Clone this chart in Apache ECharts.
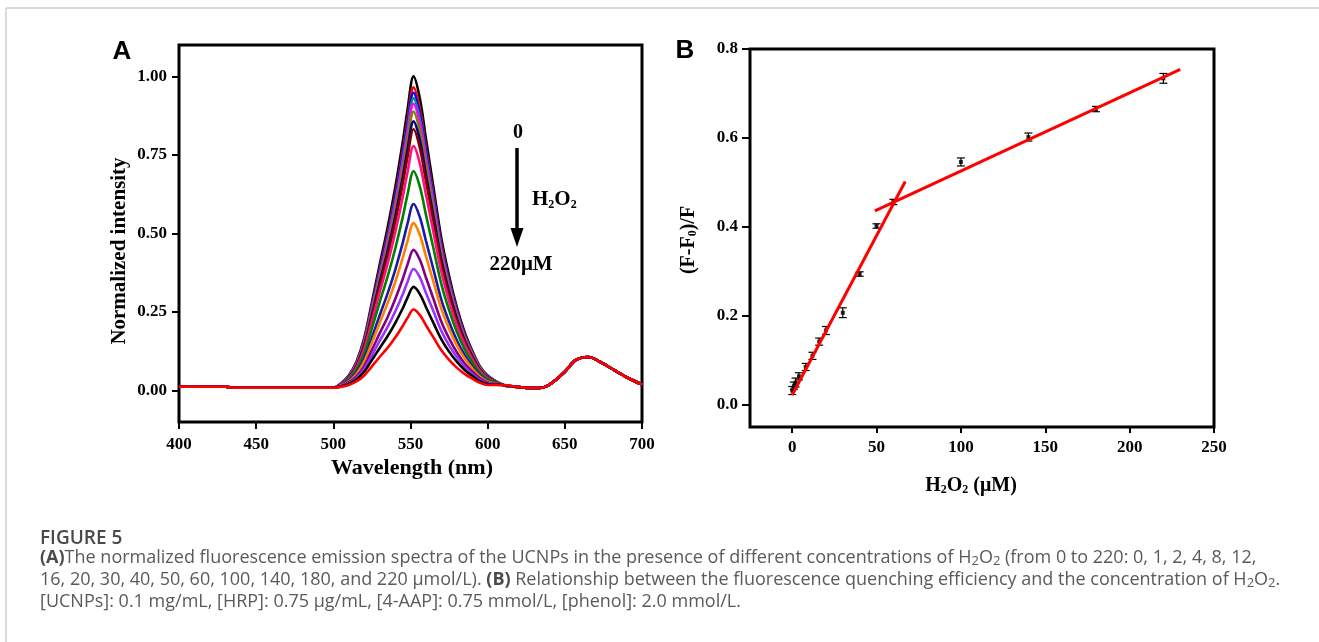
<!DOCTYPE html>
<html>
<head>
<meta charset="utf-8">
<title>Figure 5</title>
<script src="https://cdn.jsdelivr.net/npm/echarts@6/dist/echarts.min.js"></script>
<style>
    html, body { margin: 0; padding: 0; background: #fff; }
    #main { width: 1319px; height: 642px; }
</style>
</head>
<body>
<div id="main"></div>
<script>
// ---- panel A: normalized emission spectra, one curve per H2O2 concentration ----
var concList = [0, 1, 2, 4, 8, 12, 16, 20, 30, 40, 50, 60, 100, 140, 180, 220];
var curveColors = ['#000000', '#ff0000', '#0000ff', '#008b8b', '#ff00ff', '#808000', '#000080', '#800000',
                   '#ff0f80', '#008000', '#1a1aa6', '#ff8000', '#800080', '#9933ff', '#000000', '#ff0000'];

// flat part before the green band and the red band near 665 nm (same for every curve)
var wlLeft = [400, 430, 436, 470, 500];
var baseLeft = [0.012, 0.012, 0.009, 0.009, 0.009];
var wlRight = [610, 620, 630, 636, 641, 650, 657, 665, 673, 682, 691, 700];
var baseRight = [0.018, 0.011, 0.008, 0.010, 0.022, 0.060, 0.097, 0.107, 0.091, 0.065, 0.040, 0.019];

// main band, read per curve
var wlPeak = [505, 510, 515, 520, 525, 530, 535, 540, 545, 548, 552, 556, 560, 565, 570, 575, 580, 585, 590, 595, 600];
var spec0   = [0.023, 0.048, 0.092, 0.167, 0.281, 0.400, 0.514, 0.643, 0.792, 0.891, 1.000, 0.931, 0.802, 0.643, 0.484, 0.365, 0.266, 0.187, 0.127, 0.077, 0.048];
var spec1   = [0.022, 0.046, 0.089, 0.161, 0.271, 0.386, 0.496, 0.620, 0.764, 0.860, 0.965, 0.898, 0.774, 0.620, 0.467, 0.352, 0.257, 0.180, 0.123, 0.075, 0.046];
var spec2   = [0.022, 0.046, 0.088, 0.158, 0.266, 0.379, 0.487, 0.610, 0.751, 0.845, 0.948, 0.882, 0.760, 0.610, 0.459, 0.346, 0.252, 0.177, 0.121, 0.074, 0.046];
var spec4   = [0.022, 0.045, 0.086, 0.156, 0.262, 0.372, 0.478, 0.598, 0.736, 0.829, 0.930, 0.866, 0.746, 0.598, 0.451, 0.340, 0.248, 0.174, 0.119, 0.073, 0.045];
var spec8   = [0.022, 0.044, 0.085, 0.153, 0.257, 0.365, 0.470, 0.587, 0.723, 0.813, 0.913, 0.850, 0.732, 0.587, 0.442, 0.334, 0.243, 0.171, 0.117, 0.071, 0.044];
var spec12  = [0.021, 0.043, 0.083, 0.149, 0.250, 0.356, 0.457, 0.571, 0.703, 0.791, 0.888, 0.826, 0.712, 0.571, 0.430, 0.325, 0.237, 0.166, 0.114, 0.070, 0.043];
var spec16  = [0.021, 0.042, 0.080, 0.144, 0.241, 0.343, 0.441, 0.551, 0.679, 0.764, 0.857, 0.798, 0.687, 0.551, 0.416, 0.314, 0.229, 0.161, 0.110, 0.067, 0.042];
var spec20  = [0.020, 0.041, 0.078, 0.140, 0.235, 0.333, 0.428, 0.535, 0.659, 0.741, 0.832, 0.774, 0.667, 0.535, 0.404, 0.305, 0.222, 0.156, 0.107, 0.066, 0.041];
var spec30  = [0.020, 0.039, 0.073, 0.131, 0.220, 0.312, 0.401, 0.501, 0.616, 0.693, 0.778, 0.724, 0.624, 0.501, 0.378, 0.285, 0.208, 0.147, 0.100, 0.062, 0.039];
var spec40  = [0.018, 0.036, 0.067, 0.118, 0.198, 0.281, 0.360, 0.450, 0.553, 0.622, 0.698, 0.650, 0.560, 0.450, 0.339, 0.256, 0.187, 0.132, 0.091, 0.056, 0.036];
var spec50  = [0.017, 0.031, 0.058, 0.102, 0.169, 0.239, 0.307, 0.383, 0.471, 0.530, 0.594, 0.553, 0.477, 0.383, 0.289, 0.219, 0.160, 0.114, 0.078, 0.049, 0.031];
var spec60  = [0.016, 0.029, 0.053, 0.092, 0.152, 0.215, 0.276, 0.344, 0.423, 0.475, 0.533, 0.496, 0.428, 0.344, 0.260, 0.197, 0.144, 0.103, 0.071, 0.045, 0.029];
var spec100 = [0.015, 0.026, 0.045, 0.078, 0.129, 0.182, 0.232, 0.290, 0.356, 0.400, 0.448, 0.417, 0.360, 0.290, 0.219, 0.166, 0.122, 0.087, 0.061, 0.039, 0.026];
var spec140 = [0.014, 0.023, 0.040, 0.069, 0.112, 0.158, 0.201, 0.251, 0.307, 0.345, 0.387, 0.361, 0.311, 0.251, 0.190, 0.144, 0.107, 0.076, 0.053, 0.034, 0.023];
var spec180 = [0.013, 0.021, 0.035, 0.060, 0.097, 0.135, 0.172, 0.214, 0.262, 0.295, 0.330, 0.308, 0.266, 0.214, 0.163, 0.124, 0.092, 0.066, 0.047, 0.030, 0.021];
var spec220 = [0.012, 0.018, 0.029, 0.048, 0.077, 0.107, 0.135, 0.168, 0.206, 0.231, 0.258, 0.241, 0.208, 0.168, 0.128, 0.098, 0.073, 0.053, 0.038, 0.025, 0.018];
var spectra = [spec0, spec1, spec2, spec4, spec8, spec12, spec16, spec20, spec30, spec40,
               spec50, spec60, spec100, spec140, spec180, spec220];

// ---- panel B: quenching efficiency vs concentration ----
var bConc = [0, 1, 2, 4, 8, 12, 16, 20, 30, 40, 50, 60, 100, 140, 180, 220];
var bVal  = [0.032, 0.043, 0.050, 0.064, 0.085, 0.110, 0.142, 0.167, 0.207, 0.294, 0.402, 0.456, 0.546, 0.602, 0.665, 0.734];
var bErr  = [0.009, 0.008, 0.010, 0.008, 0.008, 0.008, 0.008, 0.009, 0.011, 0.005, 0.005, 0.006, 0.009, 0.009, 0.006, 0.011];
var fitLowX  = [0, 67];
var fitLowY  = [0.022, 0.502];
var fitHighX = [49, 230];
var fitHighY = [0.436, 0.754];

var ticksA_y = [0, 0.25, 0.5, 0.75, 1.0];
var ticksB_x = [0, 50, 100, 150, 200, 250];
var ticksB_y = [0, 0.2, 0.4, 0.6, 0.8];

var serif = "'Liberation Serif', 'Times New Roman', serif";
var sans = "'Liberation Sans', Arial, sans-serif";
var capFont = "'Open Sans', 'Noto Sans', sans-serif";

var chart = echarts.init(document.getElementById('main'));

var wlAll = wlLeft.concat(wlPeak, wlRight);
var series = [];
for (var i = 0; i < spectra.length; i++) {
    var vals = baseLeft.concat(spectra[i], baseRight);
    var pts = [];
    for (var j = 0; j < wlAll.length; j++) {
        pts.push([wlAll[j], vals[j]]);
    }
    series.push({
        name: concList[i] + ' μM',
        type: 'line',
        xAxisIndex: 0,
        yAxisIndex: 0,
        data: pts,
        showSymbol: false,
        smooth: 0.35,
        lineStyle: {color: curveColors[i], width: 2.6},
        silent: true
    });
}

var errData = [], dotData = [];
for (var k = 0; k < bConc.length; k++) {
    errData.push([bConc[k], bVal[k] - bErr[k], bVal[k] + bErr[k]]);
    dotData.push([bConc[k], bVal[k]]);
}

series.push({
    type: 'custom',
    xAxisIndex: 1,
    yAxisIndex: 1,
    data: errData,
    encode: {x: 0, y: [1, 2]},
    silent: true,
    renderItem: function (params, api) {
        var x = api.value(0);
        var lo = api.coord([x, api.value(1)]);
        var hi = api.coord([x, api.value(2)]);
        var cap = 4;
        var st = {stroke: '#000', lineWidth: 1.2};
        return {
            type: 'group',
            children: [
                {type: 'line', shape: {x1: lo[0], y1: lo[1], x2: hi[0], y2: hi[1]}, style: st},
                {type: 'line', shape: {x1: lo[0] - cap, y1: lo[1], x2: lo[0] + cap, y2: lo[1]}, style: st},
                {type: 'line', shape: {x1: hi[0] - cap, y1: hi[1], x2: hi[0] + cap, y2: hi[1]}, style: st}
            ]
        };
    }
});
series.push({
    type: 'scatter',
    xAxisIndex: 1,
    yAxisIndex: 1,
    data: dotData,
    symbol: 'rect',
    symbolSize: 4,
    itemStyle: {color: '#000'},
    silent: true
});
[[fitLowX, fitLowY], [fitHighX, fitHighY]].forEach(function (f) {
    series.push({
        type: 'line',
        xAxisIndex: 1,
        yAxisIndex: 1,
        data: [[f[0][0], f[1][0]], [f[0][1], f[1][1]]],
        showSymbol: false,
        lineStyle: {color: '#ff0000', width: 3},
        silent: true
    });
});

function tickLabel(fmt) {
    return {
        fontFamily: serif, fontWeight: 'bold', fontSize: 17, color: '#000',
        formatter: fmt
    };
}

var subStyle = {fontFamily: serif, fontWeight: 'bold', fontSize: 12, lineHeight: 2, verticalAlign: 'bottom', fill: '#000'};
var capSub = {fontFamily: capFont, fontSize: 13, lineHeight: 8, verticalAlign: 'bottom', fill: '#5a5a5a'};
var capBold = {fontFamily: capFont, fontWeight: 'bold', fontSize: 18, lineHeight: 20, fill: '#4a4a4a'};

var option = {
    animation: false,
    grid: [
        {left: 179, top: 45, width: 463, height: 377, show: true, borderColor: '#000', borderWidth: 3},
        {left: 750, top: 49, width: 464, height: 378, show: true, borderColor: '#000', borderWidth: 3}
    ],
    xAxis: [
        {
            type: 'value', gridIndex: 0, min: 400, max: 700, interval: 50,
            axisLine: {show: false, onZero: false},
            axisTick: {show: true, length: 7, lineStyle: {color: '#000', width: 2}},
            axisLabel: Object.assign(tickLabel(), {margin: 14}),
            splitLine: {show: false}
        },
        {
            type: 'value', gridIndex: 1, min: -25, max: 250,
            axisLine: {show: false, onZero: false},
            axisTick: {show: true, length: 6, customValues: ticksB_x, lineStyle: {color: '#000', width: 2}},
            axisLabel: Object.assign(tickLabel(), {margin: 12, customValues: ticksB_x}),
            splitLine: {show: false}
        }
    ],
    yAxis: [
        {
            type: 'value', gridIndex: 0, min: -0.1, max: 1.1,
            axisLine: {show: false, onZero: false},
            axisTick: {show: true, length: 7, customValues: ticksA_y, lineStyle: {color: '#000', width: 2}},
            axisLabel: Object.assign(tickLabel(function (v) { return v.toFixed(2); }), {margin: 12, customValues: ticksA_y}),
            splitLine: {show: false}
        },
        {
            type: 'value', gridIndex: 1, min: -0.05, max: 0.8,
            axisLine: {show: false, onZero: false},
            axisTick: {show: true, length: 8, customValues: ticksB_y, lineStyle: {color: '#000', width: 2}},
            axisLabel: Object.assign(tickLabel(function (v) { return v.toFixed(1); }), {margin: 12, customValues: ticksB_y}),
            splitLine: {show: false}
        }
    ],
    graphic: [
        // page frame lines
        {type: 'line', shape: {x1: 6, y1: 8, x2: 1319, y2: 8}, style: {stroke: '#cccccc', lineWidth: 1.5}},
        {type: 'line', shape: {x1: 6, y1: 8, x2: 6, y2: 642}, style: {stroke: '#cccccc', lineWidth: 1.5}},
        // panel letters
        {type: 'text', x: 122, y: 52, style: {text: 'A', fontFamily: sans, fontWeight: 'bold', fontSize: 26, fill: '#000', align: 'center', verticalAlign: 'middle'}},
        {type: 'text', x: 685, y: 51, style: {text: 'B', fontFamily: sans, fontWeight: 'bold', fontSize: 26, fill: '#000', align: 'center', verticalAlign: 'middle'}},
        // axis titles
        {type: 'text', x: 120, y: 251, rotation: Math.PI / 2,
            style: {text: 'Normalized intensity', fontFamily: serif, fontWeight: 'bold', fontSize: 21, fill: '#000', align: 'center', verticalAlign: 'middle'}},
        {type: 'text', x: 412, y: 468,
            style: {text: 'Wavelength (nm)', fontFamily: serif, fontWeight: 'bold', fontSize: 22, fill: '#000', align: 'center', verticalAlign: 'middle'}},
        {type: 'text', x: 689, y: 240, rotation: Math.PI / 2,
            style: {text: '(F-F{s|0})/F', fontFamily: serif, fontWeight: 'bold', fontSize: 20, lineHeight: 20, fill: '#000', align: 'center', verticalAlign: 'middle',
                rich: {s: subStyle}}},
        {type: 'text', x: 971, y: 486,
            style: {text: 'H{s|2}O{s|2} (μM)', fontFamily: serif, fontWeight: 'bold', fontSize: 20, lineHeight: 20, fill: '#000', align: 'center', verticalAlign: 'middle',
                rich: {s: subStyle}}},
        // annotation in panel A
        {type: 'text', x: 518, y: 133, style: {text: '0', fontFamily: serif, fontWeight: 'bold', fontSize: 20, fill: '#000', align: 'center', verticalAlign: 'middle'}},
        {type: 'line', shape: {x1: 517, y1: 148, x2: 517, y2: 232}, style: {stroke: '#000', lineWidth: 3.5}},
        {type: 'polygon', shape: {points: [[510.5, 228], [523.5, 228], [517, 247]]}, style: {fill: '#000'}},
        {type: 'text', x: 532, y: 200,
            style: {text: 'H{s|2}O{s|2}', fontFamily: serif, fontWeight: 'bold', fontSize: 21, lineHeight: 21, fill: '#000', align: 'left', verticalAlign: 'middle',
                rich: {s: subStyle}}},
        {type: 'text', x: 521, y: 265, style: {text: '220μM', fontFamily: serif, fontWeight: 'bold', fontSize: 21, fill: '#000', align: 'center', verticalAlign: 'middle'}},
        // caption
        {type: 'text', x: 40, y: 539, style: {text: 'FIGURE 5', fontFamily: capFont, fontWeight: 600, fontSize: 19, fill: '#4a4a4a', align: 'left', verticalAlign: 'middle'}},
        {type: 'text', x: 40, y: 558,
            style: {text: '{b|(A)}The normalized fluorescence emission spectra of the UCNPs in the presence of different concentrations of H{s|2}O{s|2} (from 0 to 220: 0, 1, 2, 4, 8, 12,',
                fontFamily: capFont, fontSize: 18, lineHeight: 20, fill: '#5a5a5a', align: 'left', verticalAlign: 'middle',
                rich: {b: capBold, s: capSub}}},
        {type: 'text', x: 40, y: 580,
            style: {text: '16, 20, 30, 40, 50, 60, 100, 140, 180, and 220 μmol/L). {b|(B)} Relationship between the fluorescence quenching efficiency and the concentration of H{s|2}O{s|2}.',
                fontFamily: capFont, fontSize: 18, lineHeight: 20, fill: '#5a5a5a', align: 'left', verticalAlign: 'middle',
                rich: {b: capBold, s: capSub}}},
        {type: 'text', x: 40, y: 602,
            style: {text: '[UCNPs]: 0.1 mg/mL, [HRP]: 0.75 μg/mL, [4-AAP]: 0.75 mmol/L, [phenol]: 2.0 mmol/L.',
                fontFamily: capFont, fontSize: 18, fill: '#5a5a5a', align: 'left', verticalAlign: 'middle'}}
    ],
    series: series
};

chart.setOption(option);
</script>
</body>
</html>
